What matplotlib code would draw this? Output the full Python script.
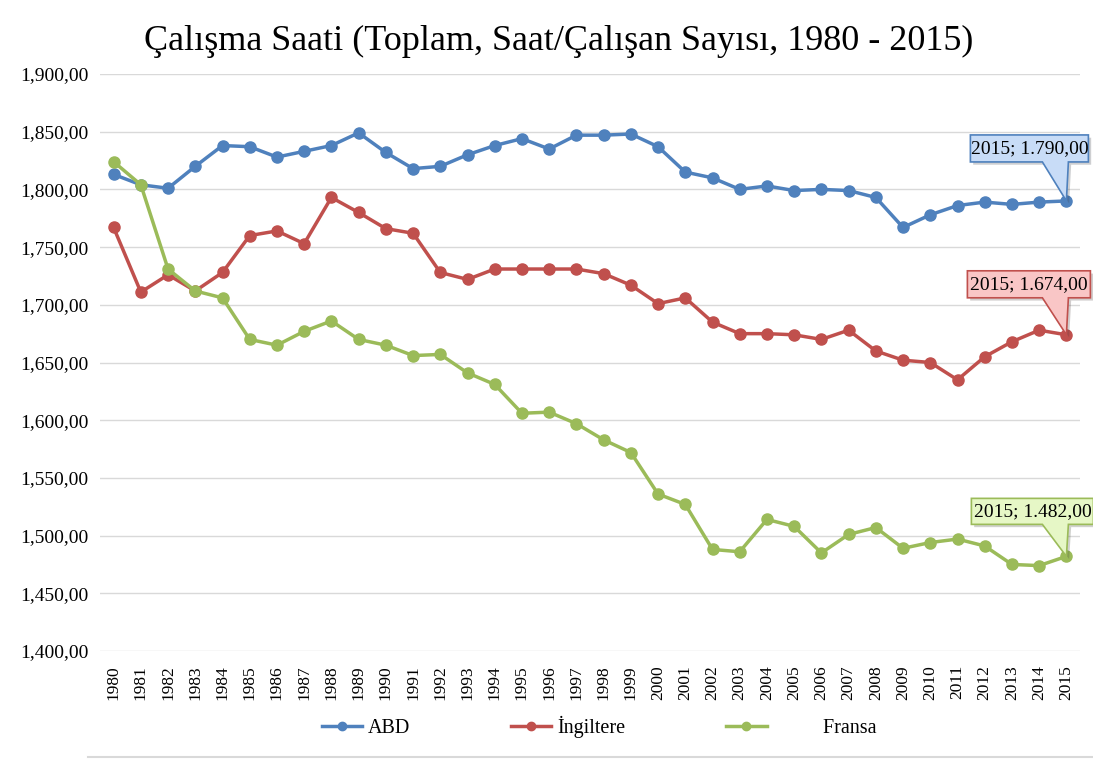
import numpy as np
import matplotlib.pyplot as plt
import matplotlib.transforms as mtransforms
import matplotlib.patheffects as pe
from matplotlib.ticker import FuncFormatter
from matplotlib.lines import Line2D
from matplotlib.patches import Polygon

years = list(range(1980, 2016))
abd = [1813, 1804, 1801, 1820, 1838, 1837, 1828, 1833, 1838, 1849, 1832, 1818,
       1820, 1830, 1838, 1844, 1835, 1847, 1847, 1848, 1837, 1815, 1810, 1800,
       1803, 1799, 1800, 1799, 1793, 1767, 1778, 1786, 1789, 1787, 1789, 1790]
ingiltere = [1767, 1711, 1726, 1712, 1728, 1760, 1764, 1753, 1793, 1780, 1766, 1762,
             1728, 1722, 1731, 1731, 1731, 1731, 1727, 1717, 1701, 1706, 1685, 1675,
             1675, 1674, 1670, 1678, 1660, 1652, 1650, 1635, 1655, 1668, 1678, 1674]
fransa = [1824, 1804, 1731, 1712, 1706, 1670, 1665, 1677, 1686, 1670, 1665, 1656,
          1657, 1641, 1631, 1606, 1607, 1597, 1583, 1572, 1536, 1527, 1488, 1486,
          1514, 1508, 1485, 1501, 1507, 1489, 1494, 1497, 1491, 1475, 1474, 1482]
names = ["ABD", "İngiltere", "Fransa"]
colors = ["#4f81bd", "#c0504d", "#9bbb59"]
box_fill = ["#c8dcf7", "#f9c6c6", "#e6f7c6"]

plt.rcParams['font.family'] = ['Liberation Serif', 'DejaVu Serif']

fig = plt.figure(figsize=(10.93, 7.62), dpi=100)
ax = fig.add_axes([100/1093, 1-651/762, 980/1093, (651-74)/762])

x = np.arange(len(years))
for series, name, c in zip([abd, ingiltere, fransa], names, colors):
    ax.plot(x, series, color=c, lw=2.5, marker='o', ms=8, label=name, zorder=3)

ax.set_xlim(-0.5, len(years) - 0.5)
ax.set_ylim(1400, 1900)
ax.set_yticks(np.arange(1400, 1901, 50))
ax.yaxis.set_major_formatter(FuncFormatter(lambda v, p: f"{v:,.0f},00"))
ax.set_xticks(x)
ax.set_xticklabels([str(y) for y in years], rotation=90, fontsize=12.5)
ax.tick_params(axis='y', labelsize=14, length=0, pad=8.5)
ax.tick_params(axis='x', length=0, pad=10)
ax.grid(axis='y', color='#d9d9d9', lw=1)
ax.set_axisbelow(True)
for s in ax.spines.values():
    s.set_visible(False)

# callouts on the last point (pixel offsets from the point: box left/right, bottom/top)
boxes = [(-96, 22, 39, 66), (-99, 24, 37, 64), (-95, 27, 32, 58)]
for series, c, fc, (l, r, b, t) in zip([abd, ingiltere, fransa], colors, box_fill, boxes):
    val = series[-1]
    txt = f"{years[-1]}; " + f"{val:,.0f}".replace(",", ".") + ",00"
    tr = mtransforms.IdentityTransform() + mtransforms.ScaledTranslation(x[-1], val, ax.transData)
    verts = [(l, b), (-24, b), (0, 0), (2, b), (r, b), (r, t), (l, t)]
    poly = Polygon(verts, closed=True, fc=fc, ec=c, lw=1.2, transform=tr, clip_on=False, zorder=5,
                   path_effects=[pe.SimplePatchShadow(offset=(2, -2), alpha=0.25), pe.Normal()])
    fig.add_artist(poly)
    fig.text((l + r) / 2, (b + t) / 2, txt, transform=tr, ha='center', va='center',
             fontsize=14, zorder=6)

fig.text(559/1093, 1-41/762, "Çalışma Saati (Toplam, Saat/Çalışan Sayısı, 1980 - 2015)",
         ha='center', va='center', fontsize=26)

handles = [Line2D([], [], color=c, lw=2.5, marker='o', ms=6) for c in colors]
fig.legend(handles, ["ABD", "İngiltere", "          Fransa"], loc='center',
           bbox_to_anchor=(599/1093, 1-727/762), ncol=3, frameon=False,
           fontsize=14.5, columnspacing=5.0, handlelength=2.0, handletextpad=0.3)

fig.add_artist(Line2D([88/1093, 1], [1-757/762, 1-757/762], color='#d9d9d9', lw=1.5))

fig.savefig("out.png", dpi=100)
